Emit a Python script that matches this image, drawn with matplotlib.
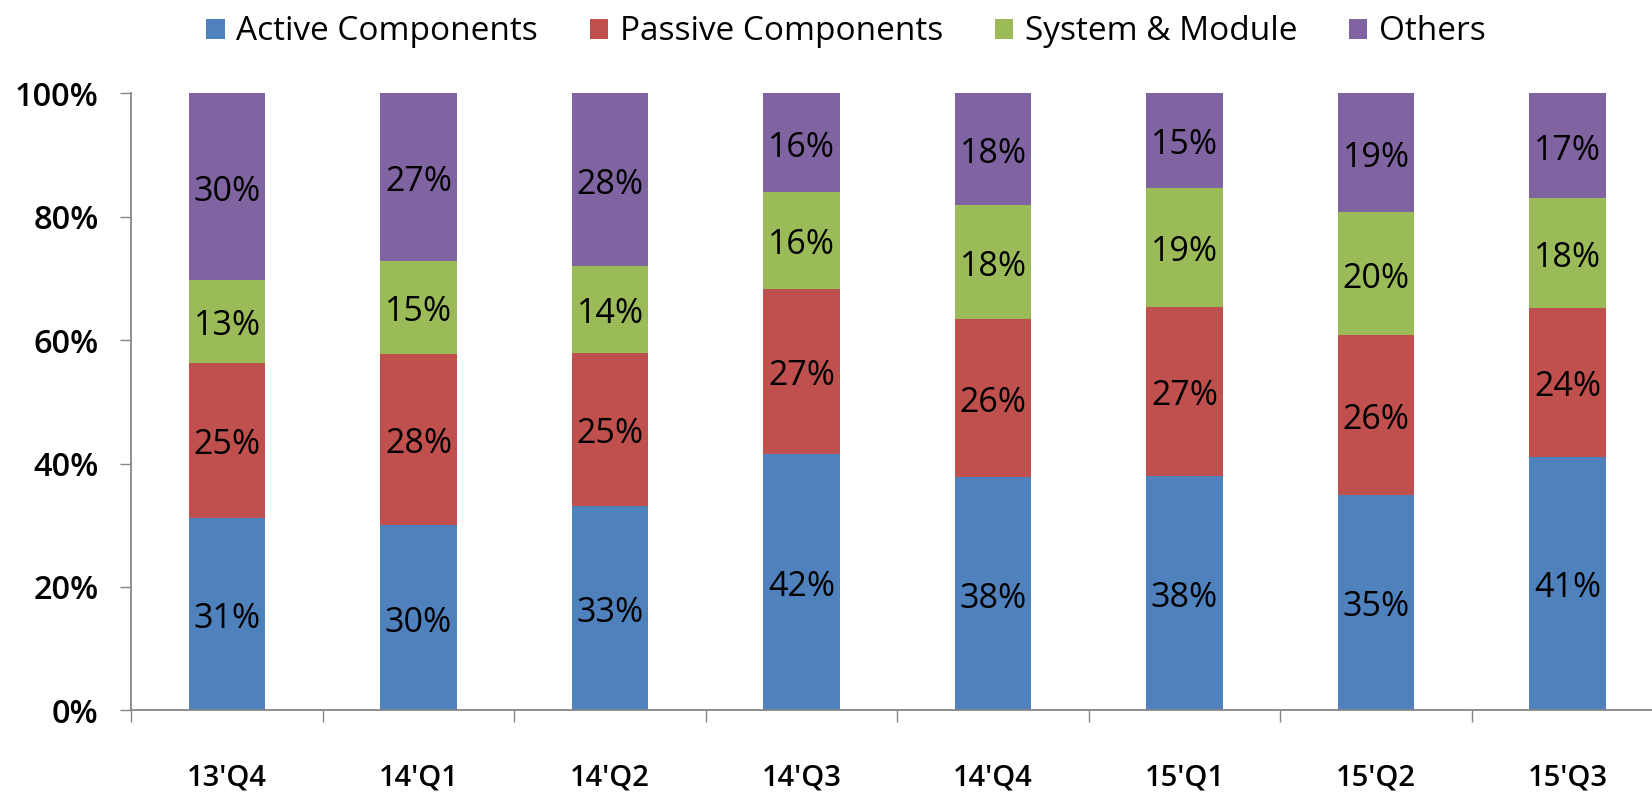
import numpy as np
import matplotlib.pyplot as plt

# quarterly revenue mix (%)
quarters = ["13'Q4", "14'Q1", "14'Q2", "14'Q3", "14'Q4", "15'Q1", "15'Q2", "15'Q3"]
active = [31.2, 30.0, 33.1, 41.6, 37.8, 38.0, 34.9, 41.1]
passive = [25.1, 27.8, 24.8, 26.7, 25.7, 27.3, 25.9, 24.1]
system_module = [13.4, 15.1, 14.1, 15.7, 18.4, 19.4, 19.9, 17.8]
others = [30.3, 27.1, 28.0, 16.0, 18.1, 15.3, 19.3, 17.0]

series = [
    ('Active Components', active, '#4F81BD'),
    ('Passive Components', passive, '#C0504D'),
    ('System & Module', system_module, '#9BBB59'),
    ('Others', others, '#8064A2'),
]

plt.rcParams['font.family'] = ['Open Sans', 'DejaVu Sans']

fig = plt.figure(figsize=(16.52, 7.93), dpi=100)
ax = fig.add_axes([131.3 / 1652, 82.7 / 793, 1532 / 1652, 617 / 793])

x = np.arange(len(quarters))
bottom = np.zeros(len(quarters))
for name, vals, color in series:
    vals = np.array(vals)
    ax.bar(x, vals, 0.4, bottom=bottom, color=color, label=name)
    for xi, b, v in zip(x, bottom, vals):
        ax.annotate('%d%%' % round(v), (xi, b + v / 2), xytext=(0, -3.5),
                    textcoords='offset points', ha='center', va='center',
                    fontsize=24.5, color='black')
    bottom = bottom + vals

ax.set_xlim(-0.5, len(quarters) - 0.5)
ax.set_ylim(0, 100)

ax.set_yticks(range(0, 101, 20))
ax.set_yticklabels(['%d%%' % v for v in range(0, 101, 20)], fontsize=23.5, fontweight='semibold')
ax.tick_params(axis='y', direction='out', length=7.6, width=1, color='#868686', pad=16)

ax.set_xticks(x)
ax.set_xticklabels(quarters, fontsize=21, fontweight='semibold')
ax.tick_params(axis='x', length=0, pad=38)
ax.set_xticks(np.arange(-0.5, len(quarters), 1), minor=True)
ax.tick_params(axis='x', which='minor', direction='out', length=8.6, width=1, color='#868686')

for s in ['top', 'right']:
    ax.spines[s].set_visible(False)
for s in ['left', 'bottom']:
    ax.spines[s].set_color('#868686')
    ax.spines[s].set_linewidth(1.3)

fig.legend(loc='center', bbox_to_anchor=(846 / 1652, 1 - 32 / 793), ncol=4, frameon=False,
           fontsize=24, handlelength=0.55, handleheight=0.55, handletextpad=0.35,
           columnspacing=1.55)

fig.savefig('out.png', dpi=100)
